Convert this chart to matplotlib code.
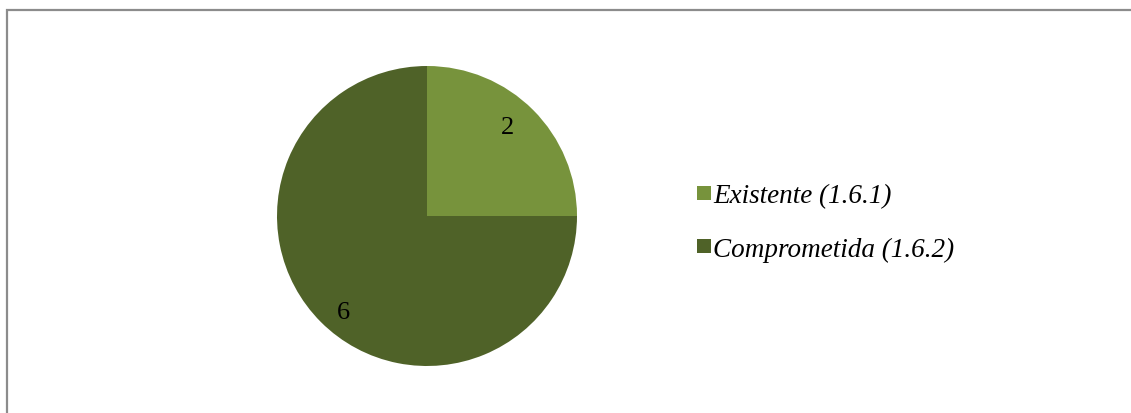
import numpy as np
import matplotlib.pyplot as plt
from matplotlib.patches import Rectangle

labels = ['Existente (1.6.1)', 'Comprometida (1.6.2)']
values = [2, 6]
colors = ['#77933C', '#4F6228']

plt.rcParams['font.family'] = ['Liberation Serif', 'DejaVu Serif']

W, H = 1131, 414
fig = plt.figure(figsize=(W / 100, H / 100), dpi=100)

# marco gris del grafico
fig.patches.append(Rectangle((7 / W, -0.1), 1.2, (H - 11) / H + 0.1, transform=fig.transFigure,
                             facecolor='none', edgecolor='#8C8C8C', linewidth=1.6))

ax = fig.add_axes([277 / W, 47 / H, 300 / W, 300 / H])
wedges, texts, autotexts = ax.pie(values, colors=colors, startangle=90, counterclock=False,
                                  radius=1, autopct=lambda p: '%d' % round(p * sum(values) / 100),
                                  pctdistance=0.82, textprops={'fontsize': 19})
ax.set_xlim(-1, 1)
ax.set_ylim(-1, 1)
ax.set_aspect('equal')

# etiquetas: distancia y giro como en Excel (ajuste fino)
dist = [0.80, 0.85]
shift = [3, 4]  # grados
for w, t, d, s in zip(wedges, autotexts, dist, shift):
    ang = np.deg2rad((w.theta1 + w.theta2) / 2 + s)
    t.set_position((d * np.cos(ang), d * np.sin(ang)))

# leyenda a mano (cuadrados + texto)
sq = 14
y0, dy = 194, 53
for i, (lab, col) in enumerate(zip(labels, colors)):
    yc = y0 + i * dy
    fig.patches.append(Rectangle((697 / W, 1 - (yc + sq / 2) / H), sq / W, sq / H,
                                 transform=fig.transFigure, facecolor=col, edgecolor='none'))
    fig.text(713 / W, 1 - (yc + 3) / H, lab, fontsize=19.5, style='italic', va='center', ha='left')

fig.savefig('out.png', dpi=100)
